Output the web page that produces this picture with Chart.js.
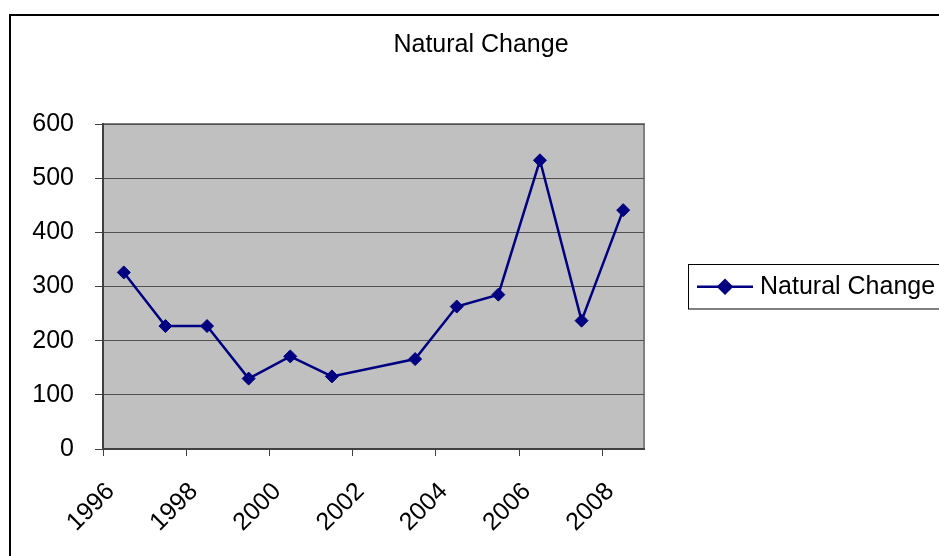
<!DOCTYPE html>
<html>
<head>
<meta charset="utf-8">
<script src="https://cdn.jsdelivr.net/npm/chart.js@4.4.1/dist/chart.umd.min.js"></script>
<style>
  html, body { margin: 0; padding: 0; background: #fff; overflow: hidden; }
  #wrap { position: relative; width: 939px; height: 556px; }
</style>
</head>
<body>
<div id="wrap"><canvas id="chart" width="939" height="556"></canvas></div>
<script>
// Years on the category axis (2002 has no reading)
const years = ['1996', '1997', '1998', '1999', '2000', '2001', '2002',
               '2003', '2004', '2005', '2006', '2007', '2008'];
// Natural change per year
const naturalChange = [326, 227, 227, 130, 171, 134, null,
                       166, 263, 285, 533, 237, 441];
// Value axis ticks
const yTicks = [0, 100, 200, 300, 400, 500, 600];
const chartTitle = 'Natural Change';

const FONT = '"Liberation Sans", Arial, sans-serif';
const FONT_SIZE = 25;
const NAVY = '#000080';

// Outer frame, title, grey plot background and plot border
const framePlugin = {
  id: 'frame',
  beforeDraw(chart) {
    const { ctx, chartArea: a } = chart;
    ctx.save();
    ctx.fillStyle = '#ffffff';
    ctx.fillRect(0, 0, chart.width, chart.height);
    ctx.strokeStyle = '#000000';
    ctx.lineWidth = 2;
    ctx.strokeRect(10, 15, 1200, 1200);
    ctx.fillStyle = '#000000';
    ctx.font = FONT_SIZE + 'px ' + FONT;
    ctx.textAlign = 'center';
    ctx.textBaseline = 'middle';
    ctx.fillText(chartTitle, 481, 45);
    ctx.fillStyle = '#C0C0C0';
    ctx.fillRect(a.left, a.top, a.right - a.left, a.bottom - a.top);
    ctx.strokeStyle = '#808080';
    ctx.lineWidth = 2;
    ctx.beginPath();
    ctx.moveTo(a.left, a.top);
    ctx.lineTo(a.right, a.top);
    ctx.lineTo(a.right, a.bottom);
    ctx.stroke();
    ctx.restore();
  }
};

// Boxed legend to the right of the plot
const boxLegendPlugin = {
  id: 'boxLegend',
  afterDraw(chart) {
    const { ctx } = chart;
    const ds = chart.data.datasets[0];
    const x0 = 688.5, y0 = 264.5, h = 44.5;
    const cy = y0 + h / 2;
    ctx.save();
    ctx.strokeStyle = '#000000';
    ctx.lineWidth = 1;
    ctx.strokeRect(x0, y0, 400, h);
    ctx.strokeStyle = ds.borderColor;
    ctx.lineWidth = ds.borderWidth;
    ctx.beginPath();
    ctx.moveTo(697, cy);
    ctx.lineTo(753, cy);
    ctx.stroke();
    Chart.helpers.drawPoint(ctx, {
      pointStyle: ds.pointStyle, radius: ds.pointRadius,
      borderWidth: 1
    }, 725, cy);
    ctx.fillStyle = ds.pointBackgroundColor;
    ctx.strokeStyle = ds.pointBorderColor;
    ctx.lineWidth = 1;
    ctx.fill();
    ctx.stroke();
    ctx.fillStyle = '#000000';
    ctx.font = FONT_SIZE + 'px ' + FONT;
    ctx.textBaseline = 'middle';
    ctx.textAlign = 'left';
    ctx.fillText(ds.label, 760, cy);
    ctx.restore();
  }
};

new Chart(document.getElementById('chart'), {
  type: 'line',
  data: {
    labels: years,
    datasets: [{
      label: 'Natural Change',
      data: naturalChange,
      borderColor: NAVY,
      borderWidth: 2.5,
      backgroundColor: NAVY,
      pointStyle: 'rectRot',
      pointRadius: 6.5,
      pointBackgroundColor: NAVY,
      pointBorderColor: NAVY,
      pointBorderWidth: 1,
      spanGaps: true,
      tension: 0
    }]
  },
  options: {
    responsive: false,
    animation: false,
    events: [],
    layout: { padding: { left: 0, right: 295, top: 124, bottom: 0 } },
    plugins: {
      legend: { display: false },
      tooltip: { enabled: false },
      title: { display: false }
    },
    scales: {
      x: {
        type: 'category',
        offset: true,
        afterFit(scale) { scale.height = 107; },
        grid: {
          offset: true,
          drawOnChartArea: false,
          tickLength: 7,
          tickWidth: 1,
          tickColor: (c) => (c.index % 2 === 0 ? '#404040' : 'rgba(0,0,0,0)')
        },
        border: { color: '#404040', width: 2 },
        ticks: {
          autoSkip: false,
          minRotation: 45,
          maxRotation: 45,
          padding: 21,
          labelOffset: -13,
          color: '#000000',
          font: { family: FONT, size: FONT_SIZE },
          callback: (v, i) => (i % 2 === 0 ? years[i] : '')
        }
      },
      y: {
        min: 0,
        max: 600,
        afterFit(scale) { scale.width = 103; },
        afterBuildTicks(scale) { scale.ticks = yTicks.map(v => ({ value: v })); },
        grid: {
          color: '#505050',
          lineWidth: 1,
          tickLength: 8,
          tickColor: '#404040'
        },
        border: { color: '#404040', width: 2 },
        ticks: {
          padding: 21,
          color: '#000000',
          font: { family: FONT, size: FONT_SIZE }
        }
      }
    }
  },
  plugins: [framePlugin, boxLegendPlugin]
});
</script>
</body>
</html>
